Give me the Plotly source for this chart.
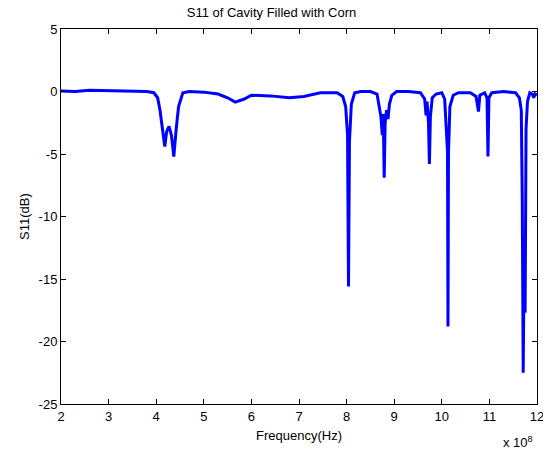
import plotly.graph_objects as go

# Frequency in units of 1e8 Hz, S11 in dB
freq_e8 = [
    2.0, 2.3, 2.6, 3.0, 3.5, 3.8, 3.95, 4.03, 4.08, 4.13, 4.18, 4.22, 4.27, 4.32, 4.37,
    4.42, 4.47, 4.56, 4.7, 5.0, 5.3, 5.5, 5.66, 5.85, 6.0, 6.4, 6.8, 7.1, 7.45, 7.8,
    7.92, 7.98, 8.02, 8.04, 8.06, 8.1, 8.17, 8.3, 8.5, 8.64, 8.68, 8.72, 8.75, 8.77,
    8.79, 8.81, 8.84, 8.87, 8.9, 8.95, 9.05, 9.3, 9.55, 9.64, 9.67, 9.69, 9.72, 9.74,
    9.76, 9.8, 9.88, 10.0, 10.06, 10.1, 10.12, 10.13, 10.14, 10.17, 10.24, 10.35,
    10.6, 10.72, 10.77, 10.8, 10.9, 10.95, 10.97, 10.99, 11.05, 11.3, 11.55, 11.63,
    11.67, 11.69, 11.71, 11.73, 11.75, 11.77, 11.8, 11.85, 11.9, 11.93, 11.96, 12.0,
]
s11_db = [
    0.05, 0.0, 0.1, 0.05, 0.0, 0.0, -0.1, -0.5, -1.5, -3.0, -4.4, -3.2, -2.8, -3.5, -5.2,
    -3.0, -1.2, -0.1, 0.0, -0.05, -0.2, -0.5, -0.85, -0.6, -0.3, -0.35, -0.5, -0.4, -0.1, -0.1,
    -0.4, -1.2, -3.5, -15.6, -4.0, -1.0, -0.1, 0.0, 0.0, -0.2, -1.3, -2.0, -3.5, -1.8,
    -6.9, -2.5, -1.5, -2.2, -1.0, -0.3, 0.0, 0.0, -0.1, -0.6, -1.9, -0.8, -2.5, -5.8,
    -2.0, -0.5, -0.2, -0.1, -0.6, -3.1, -4.8, -18.8, -5.0, -1.2, -0.3, -0.1,
    -0.1, -0.4, -1.6, -0.3, -0.1, -0.5, -5.2, -0.5, -0.1, 0.0, -0.1, -0.5,
    -1.5, -8.4, -22.5, -13.2, -17.7, -3.0, -0.8, -0.1, -0.2, -0.5, -0.2, -0.3,
]

x_ticks = [2, 3, 4, 5, 6, 7, 8, 9, 10, 11, 12]
y_ticks = [5, 0, -5, -10, -15, -20, -25]

font_family = "Liberation Sans, Arial, sans-serif"

fig = go.Figure()
fig.add_trace(go.Scatter(
    x=freq_e8, y=s11_db, mode="lines",
    line=dict(color="#0000FF", width=3),
    showlegend=False,
))

axis_common = dict(
    showline=True, linecolor="black", linewidth=1, mirror="ticks",
    ticks="inside", ticklen=5, tickcolor="black", tickwidth=1,
    showgrid=False, zeroline=False, ticklabeloverflow="allow", automargin=False,
    tickfont=dict(family=font_family, size=13, color="black"),
)

fig.update_layout(
    width=543, height=452,
    margin=dict(l=61, r=6, t=29, b=48),
    paper_bgcolor="white", plot_bgcolor="white",
    font=dict(family=font_family, size=13, color="black"),
    title=dict(text="S11 of Cavity Filled with Corn", x=0.5, xanchor="center",
               y=1 - 12 / 452, yanchor="middle",
               font=dict(family=font_family, size=13, color="black")),
    xaxis=dict(range=[2, 12], tickvals=x_ticks, ticktext=[str(t) for t in x_ticks],
               title=dict(text="Frequency(Hz)", standoff=8,
                          font=dict(family=font_family, size=13)),
               **axis_common),
    yaxis=dict(range=[-25, 5], tickvals=y_ticks, ticktext=[str(t) for t in y_ticks],
               title=dict(text="S11(dB)", standoff=6,
                          font=dict(family=font_family, size=13)),
               **axis_common),
    annotations=[dict(
        text="x 10<sup>8</sup>", xref="paper", yref="paper",
        x=1.0, y=0, xanchor="right", yanchor="top", yshift=-28, xshift=-2,
        showarrow=False, font=dict(family=font_family, size=13, color="black"),
    )],
)

fig.write_html("out.html")
